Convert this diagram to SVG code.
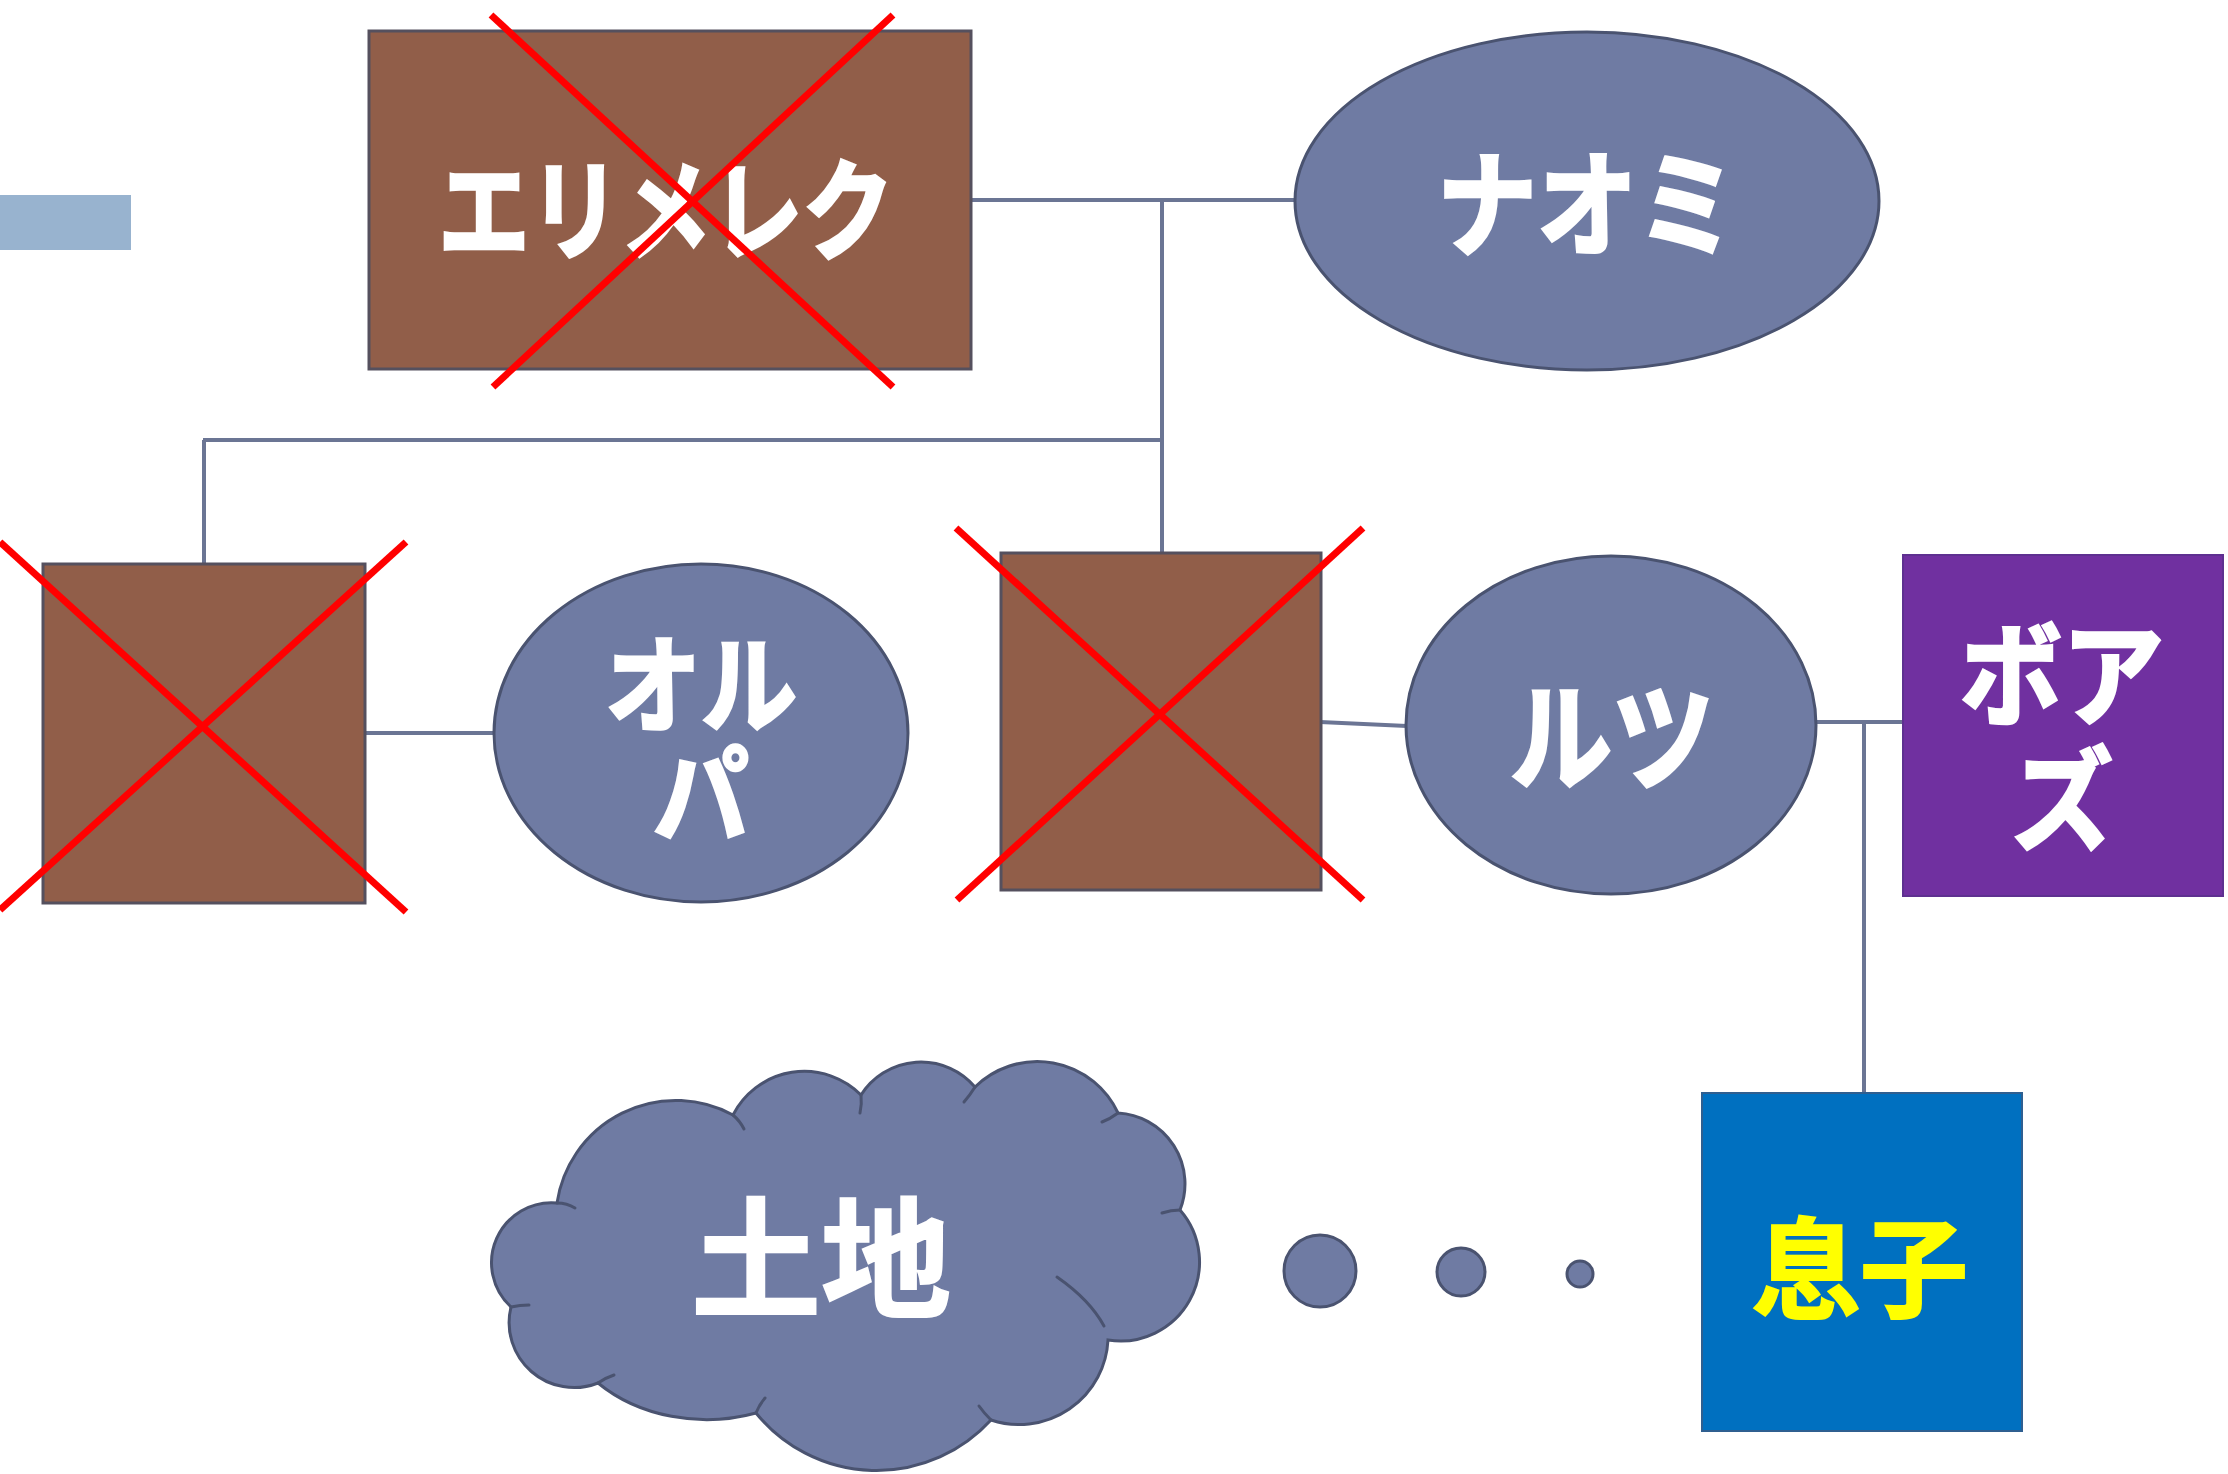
<svg xmlns="http://www.w3.org/2000/svg" width="2228" height="1474" viewBox="0 0 2228 1474">
<style>
.conn{stroke:#6B7594;stroke-width:4;fill:none}
.brown{fill:#915E49;stroke:#55505E;stroke-width:3}
.oval{fill:#6F7BA3;stroke:#4A5370;stroke-width:3}
.cross{stroke:#FF0000;stroke-width:7;stroke-linecap:butt}
.kana{font-family:"Noto Sans CJK JP","Noto Sans CJK SC",sans-serif;font-weight:bold;fill:#FFFFFF;stroke:#FFFFFF;stroke-width:3;text-anchor:middle;dominant-baseline:central}
.kanji{font-family:"Noto Sans CJK JP","Noto Sans CJK SC",sans-serif;font-weight:bold;stroke-width:2;text-anchor:middle;dominant-baseline:central}
.crease{fill:none;stroke:#4A5370;stroke-width:3;stroke-linecap:round}
</style>
<rect width="2228" height="1474" fill="#FFFFFF"/>
<rect id="bar" x="0" y="195" width="131" height="55" fill="#98B3CF"/>

<g id="connectors">
<line class="conn" x1="971" y1="200" x2="1296" y2="200"/>
<line class="conn" x1="1162" y1="200" x2="1162" y2="554"/>
<line class="conn" x1="203" y1="440" x2="1162" y2="440"/>
<line class="conn" x1="204" y1="440" x2="204" y2="564"/>
<line class="conn" x1="365" y1="733" x2="494" y2="733"/>
<line class="conn" x1="1320" y1="722" x2="1407" y2="726"/>
<line class="conn" x1="1815" y1="722" x2="1903" y2="722"/>
<line class="conn" x1="1864" y1="722" x2="1864" y2="1093"/>
</g>

<g id="elimelech">
<rect class="brown" x="369" y="31" width="602" height="338"/>
<text class="kana" transform="translate(666,203) scale(1,1.2)" font-size="91">エリメレク</text>
<line class="cross" x1="491" y1="15" x2="893" y2="387"/>
<line class="cross" x1="893" y1="15" x2="493" y2="387"/>
</g>

<g id="naomi">
<ellipse class="oval" cx="1587" cy="201" rx="292" ry="169"/>
<text class="kana" transform="translate(1587,197) scale(1,1.15)" font-size="100">ナオミ</text>
</g>

<g id="son1">
<rect class="brown" x="43" y="564" width="322" height="339"/>
<line class="cross" x1="0" y1="542" x2="406" y2="912"/>
<line class="cross" x1="406" y1="542" x2="0" y2="910"/>
</g>

<g id="orpah">
<ellipse class="oval" cx="701" cy="733" rx="207" ry="169"/>
<text class="kana" transform="translate(701,0) scale(1,1.1)" font-size="96"><tspan x="0" y="616">オル</tspan><tspan x="0" y="716">パ</tspan></text>
</g>

<g id="son2">
<rect class="brown" x="1001" y="553" width="320" height="337"/>
<line class="cross" x1="956" y1="528" x2="1363" y2="900"/>
<line class="cross" x1="1363" y1="528" x2="957" y2="900"/>
</g>

<g id="ruth">
<ellipse class="oval" cx="1611" cy="725" rx="205" ry="169"/>
<text class="kana" transform="translate(1612,730) scale(1,1.15)" font-size="102">ルツ</text>
</g>

<g id="boaz">
<rect x="1903" y="555" width="320" height="341" fill="#7030A0" stroke="#5E3090" stroke-width="2"/>
<text class="kana" transform="translate(2062,0) scale(1,1.1)" font-size="102"><tspan x="0" y="607">ボア</tspan><tspan x="0" y="721">ズ</tspan></text>
</g>

<g id="son">
<rect x="1702" y="1093" width="320" height="338" fill="#0070C0" stroke="#2F5F90" stroke-width="2"/>
<text class="kanji" x="1860" y="1262" font-size="108" fill="#FFFF00" stroke="#FFFF00">息子</text>
</g>

<g id="land">
<path class="oval" d="M557,1203 A120,120 0 0 1 733,1115 A80,80 0 0 1 861,1095 A71,71 0 0 1 975,1087 A89,89 0 0 1 1118,1113 A71,71 0 0 1 1180,1210 A79,79 0 0 1 1108,1340 A89,89 0 0 1 991,1420 A155,155 0 0 1 756,1413 A151,120 0 0 1 598,1383 A65,65 0 0 1 511,1307 A60,60 0 0 1 557,1203 Z"/>
<path class="crease" d="M557,1203 Q567,1203 575,1208"/>
<path class="crease" d="M733,1115 Q740,1121 744,1129"/>
<path class="crease" d="M861,1095 Q862,1104 860,1113"/>
<path class="crease" d="M975,1087 Q970,1095 964,1102"/>
<path class="crease" d="M1118,1113 Q1110,1119 1102,1122"/>
<path class="crease" d="M1180,1210 Q1171,1210 1162,1213"/>
<path class="crease" d="M1057,1277 Q1090,1300 1104,1326"/>
<path class="crease" d="M991,1420 Q984,1413 979,1406"/>
<path class="crease" d="M756,1413 Q759,1405 765,1398"/>
<path class="crease" d="M598,1383 Q605,1378 614,1375"/>
<path class="crease" d="M511,1307 Q520,1305 529,1305"/>
<text class="kanji" x="821" y="1250" font-size="130" fill="#FFFFFF" stroke="#FFFFFF">土地</text>
</g>

<g id="dots">
<circle cx="1320" cy="1271" r="36" fill="#6F7BA3" stroke="#4A5370" stroke-width="3"/>
<circle cx="1461" cy="1272" r="24" fill="#6F7BA3" stroke="#4A5370" stroke-width="3"/>
<circle cx="1580" cy="1274" r="13" fill="#6F7BA3" stroke="#4A5370" stroke-width="3"/>
</g>
</svg>
